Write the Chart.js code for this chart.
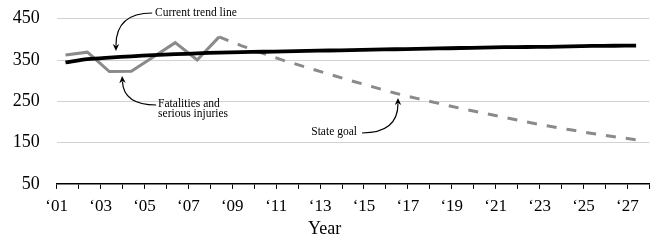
<!DOCTYPE html>
<html><head><meta charset="utf-8">
<script src="https://cdn.jsdelivr.net/npm/chart.js@4"></script>
<style>html,body{margin:0;padding:0;background:#fff}</style>
</head><body>
<canvas id="c" width="658" height="240" style="display:block;width:658px;height:240px"></canvas>
<script>
// ---- data ----
const actualYears = [2001.4, 2002.4, 2003.4, 2004.4, 2005.4, 2006.4, 2007.4, 2008.4];
const actualValues = [362, 369, 322, 323, 357, 392, 350, 406];

const trendYears = [2001.4, 2002.4, 2003.4, 2004.4, 2005.4, 2006.4, 2007.4, 2008.4, 2009.4, 2010.4,
  2011.4, 2012.4, 2013.4, 2014.4, 2015.4, 2016.4, 2017.4, 2018.4, 2019.4, 2020.4,
  2021.4, 2022.4, 2023.4, 2024.4, 2025.4, 2026.4, 2027.4];
const trendValues = [344, 352, 356, 359, 362, 364, 366, 368, 369, 370,
  371, 372, 373, 374, 375, 376, 377, 378, 379, 380,
  381, 381.5, 382, 383, 384, 384.5, 385];

const goalYears = [2008.4, 2009.4, 2010.4, 2011.4, 2012.4, 2013.4, 2014.4, 2015.4, 2016.4, 2017.4,
  2018.4, 2019.4, 2020.4, 2021.4, 2022.4, 2023.4, 2024.4, 2025.4, 2026.4, 2027.4];
const goalValues = [406, 385, 366, 348, 332, 316, 300, 285, 270, 257,
  245, 233, 222, 211, 200, 190, 181, 172, 164, 157];

const xTickLabels = {2001:"‘01",2003:"‘03",2005:"‘05",2007:"‘07",2009:"‘09",2011:"‘11",2013:"‘13",
  2015:"‘15",2017:"‘17",2019:"‘19",2021:"‘21",2023:"‘23",2025:"‘25",2027:"‘27"};
const yTicks = [50, 150, 250, 350, 450];

// annotations in data coordinates
const noteTexts = [
  {lines:["Current trend line"], x:2005.48, y:463.8, align:"left"},
  {lines:["Fatalities and","serious injuries"], x:2005.62, y:243.5, align:"left"},
  {lines:["State goal"], x:2014.68, y:175.7, align:"right"}
];
const noteArrows = [
  {from:[2005.35,463.8], ctrl:[2003.70,463.8], to:[2003.70,371.8]},
  {from:[2005.53,241.0], ctrl:[2004.05,241.0], to:[2003.98,311.3]},
  {from:[2014.91,173.2], ctrl:[2016.55,173.2], to:[2016.55,258.0]}
];

const serif = "'Liberation Serif', 'DejaVu Serif', serif";
const gray = "#8a8a8a";

function pts(xs, ys){ return xs.map((x,i)=>({x:x, y:ys[i]})); }

const annotate = {
  id: "annotate",
  afterDatasetsDraw(chart){
    const ctx = chart.ctx, xs = chart.scales.x, ys = chart.scales.y;
    const P = p => [xs.getPixelForValue(p[0]), ys.getPixelForValue(p[1])];
    ctx.save();
    ctx.fillStyle = "#000"; ctx.strokeStyle = "#000";
    ctx.font = "11.5px " + serif;
    ctx.textBaseline = "middle";
    noteTexts.forEach(n=>{
      ctx.textAlign = n.align;
      const [px,py] = P([n.x,n.y]);
      n.lines.forEach((l,i)=>ctx.fillText(l, px, py + i*9.5));
    });
    ctx.lineWidth = 1.2;
    noteArrows.forEach(a=>{
      const f = P(a.from), c = P(a.ctrl), t = P(a.to);
      const ang = Math.atan2(t[1]-c[1], t[0]-c[0]);
      const L = 7, W = 3.2;
      const bx = t[0] - Math.cos(ang)*L*0.8, by = t[1] - Math.sin(ang)*L*0.8;
      ctx.beginPath();
      ctx.moveTo(f[0], f[1]);
      ctx.quadraticCurveTo(c[0], c[1], bx, by);
      ctx.stroke();
      ctx.beginPath();
      ctx.moveTo(t[0], t[1]);
      ctx.lineTo(t[0] - Math.cos(ang)*L - Math.sin(ang)*W, t[1] - Math.sin(ang)*L + Math.cos(ang)*W);
      ctx.lineTo(t[0] - Math.cos(ang)*L*0.7, t[1] - Math.sin(ang)*L*0.7);
      ctx.lineTo(t[0] - Math.cos(ang)*L + Math.sin(ang)*W, t[1] - Math.sin(ang)*L - Math.cos(ang)*W);
      ctx.closePath();
      ctx.fill();
    });
    ctx.restore();
  }
};

new Chart(document.getElementById("c"), {
  type: "line",
  data: {
    datasets: [
      {label:"State goal", data: pts(goalYears, goalValues), borderColor: gray, borderWidth: 3,
       borderDash:[10,10], pointRadius:0, tension:0, fill:false, order:3},
      {label:"Fatalities and serious injuries", data: pts(actualYears, actualValues), borderColor: gray,
       borderWidth: 3, pointRadius:0, tension:0, fill:false, borderJoinStyle:"miter", order:2},
      {label:"Current trend line", data: pts(trendYears, trendValues), borderColor: "#000",
       borderWidth: 3.8, pointRadius:0, tension:0.3, fill:false, order:1}
    ]
  },
  options: {
    responsive: false,
    animation: false,
    devicePixelRatio: 1,
    layout: {padding: {top: 18.7, right: 8.7, left: 0, bottom: 0}},
    plugins: {
      legend: {display:false},
      tooltip: {enabled:false},
      title: {display:true, position:"bottom", text:"Year", color:"#000",
        font:{family: serif, size:18, weight:"normal"}, padding:{top:2, bottom:0}}
    },
    scales: {
      x: {
        type:"linear", min:2001, max:2028,
        afterFit(s){ s.height = 32.5; },
        border:{display:true, color:"#000", width:1.5},
        grid:{drawOnChartArea:false, drawTicks:true, tickLength:5, color:"#000", lineWidth:1},
        ticks:{stepSize:1, autoSkip:false, maxRotation:0, padding:7, color:"#000",
          font:{family: serif, size:17},
          callback:(v)=> xTickLabels[v] !== undefined ? xTickLabels[v] : ""}
      },
      y: {
        min:50, max:450,
        afterFit(s){ s.width = 56.7; s.paddingTop = 0; s.paddingBottom = 0; },
        afterBuildTicks(s){ s.ticks = yTicks.map(v=>({value:v})); },
        border:{display:false},
        grid:{drawTicks:false, color:(c)=> c.tick && c.tick.value===50 ? "rgba(0,0,0,0)" : "#d2d2d2", lineWidth:1},
        ticks:{padding:17, color:"#000", font:{family: serif, size:18}}
      }
    }
  },
  plugins:[annotate]
});
</script>
</body></html>
